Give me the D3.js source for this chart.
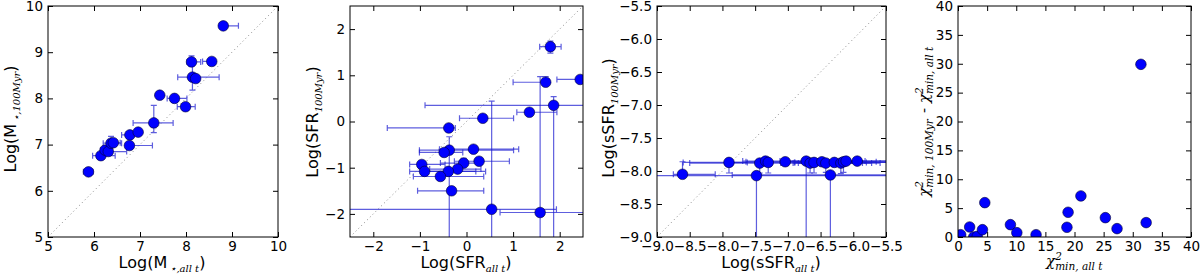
<!DOCTYPE html>
<html>
<head>
<meta charset="utf-8">
<script src="https://cdn.jsdelivr.net/npm/d3@7"></script>
<style>
body { margin: 0; background: #fff; }
svg { display: block; }
</style>
</head>
<body>
<svg id="chart" width="1200" height="276"></svg>
<script>
'use strict';

// Panel 1: Log(M*, all t) vs Log(M*, 100Myr)
var massAll = [5.88, 6.15, 6.24, 6.31, 6.37, 6.42, 6.77, 6.78, 6.96, 7.30, 7.43, 7.75, 7.99, 8.12, 8.14, 8.21, 8.56, 8.81];
var mass100 = [6.41, 6.76, 6.88, 6.85, 7.03, 7.04, 6.98, 7.21, 7.27, 7.47, 8.07, 8.00, 7.82, 8.79, 8.46, 8.43, 8.80, 9.57];
var massXLo = [0.11, 0.18, 0.10, 0.11, 0.17, 0.10, 0.05, 0.18, 0.03, 0.45, 0.02, 0.16, 0.18, 0.10, 0.32, 0.05, 0.20, 0.02];
var massXHi = [0.10, 0.31, 0.10, 0.40, 0.23, 0.15, 0.50, 0.05, 0.03, 0.42, 0.02, 0.27, 0.21, 0.20, 0.58, 0.05, 0.03, 0.33];
var massYLo = [0.02, 0.05, 0.05, 0.05, 0.05, 0.05, 0.03, 0.03, 0.03, 0.21, 0.02, 0.03, 0.03, 0.09, 0.28, 0.05, 0.03, 0.03];
var massYHi = [0.02, 0.05, 0.05, 0.05, 0.15, 0.05, 0.03, 0.03, 0.03, 0.38, 0.02, 0.03, 0.03, 0.13, 0.33, 0.05, 0.03, 0.03];

// Panel 2: Log(SFR)
var sfrAll = [1.80, 1.70, 2.44, 1.87, 1.35, 0.35, -0.38, 0.54, -0.37, -0.48, 0.15, -0.96, -0.90, -0.06, 0.27, -0.19, -0.39, -0.56, -0.32, 1.58];
var sfr100 = [1.62, 0.85, 0.91, 0.35, 0.20, 0.07, -0.14, -1.90, -0.62, -0.67, -0.60, -0.93, -1.08, -0.90, -0.86, -1.03, -1.08, -1.19, -1.50, -1.97];
var sfrXLo = [0.23, 0.70, 0.50, 2.76, 0.27, 0.50, 1.32, 3.50, 0.64, 0.53, 0.73, 0.26, 0.32, 0.50, 0.53, 0.60, 0.50, 0.58, 0.73, 0.86];
var sfrXHi = [0.23, 0.05, 0.60, 1.00, 0.59, 0.66, 0.14, 1.39, 1.38, 0.40, 0.97, 0.50, 1.10, 0.30, 0.65, 0.50, 0.80, 0.93, 0.69, 1.20];
var sfrYLo = [0.14, 0.05, 0.00, 3.00, 0.00, 0.05, 0.05, 1.00, 2.00, 0.00, 0.00, 0.00, 0.00, 0.00, 0.00, 0.00, 0.00, 0.00, 0.00, 1.00];
var sfrYHi = [0.12, 0.12, 0.00, 0.19, 0.00, 0.05, 0.07, 2.34, 0.29, 0.00, 0.00, 0.00, 0.00, 0.10, 0.00, 0.00, 0.00, 0.00, 0.00, 2.94];

// Panel 3: Log(sSFR)
var ssfrAll = [-8.61, -7.48, -6.35, -7.90, -7.43, -7.34, -7.30, -7.04, -6.72, -6.66, -6.60, -6.48, -6.42, -6.29, -6.19, -6.15, -6.11, -5.94];
var ssfr100 = [-8.05, -8.07, -8.06, -7.87, -7.88, -7.85, -7.87, -7.86, -7.85, -7.88, -7.87, -7.86, -7.88, -7.87, -7.88, -7.86, -7.85, -7.85];
var ssfrXLo = [0.14, 2.00, 1.50, 0.70, 1.07, 0.35, 0.62, 0.60, 0.40, 0.45, 0.30, 0.55, 0.50, 0.60, 0.65, 0.50, 0.40, 0.60];
var ssfrXHi = [0.50, 2.50, 1.50, 0.28, 0.34, 0.80, 1.50, 0.98, 0.90, 0.80, 1.20, 0.50, 0.70, 0.80, 0.60, 0.50, 0.70, 1.00];
var ssfrYLo = [0.00, 1.50, 1.50, 0.16, 0.15, 0.03, 0.16, 0.02, 1.50, 0.15, 0.16, 0.03, 0.14, 0.03, 0.16, 0.16, 0.03, 0.03];
var ssfrYHi = [0.19, 0.00, 0.00, 0.02, 0.02, 0.02, 0.02, 0.02, 0.02, 0.02, 0.02, 0.02, 0.02, 0.02, 0.02, 0.02, 0.02, 0.02];

// Panel 4: chi2
var chiAll  = [0.46, 2.0, 2.7, 3.3, 4.2, 4.6, 9.0, 10.1, 13.4, 18.7, 18.9, 21.1, 25.3, 27.3, 31.4, 32.3];
var chiDiff = [0.40, 1.73, 0.0, 0.1, 1.27, 5.95, 2.14, 0.75, 0.40, 1.68, 4.28, 7.11, 3.35, 1.45, 29.9, 2.49];

// Ticks
var massTicks = [5, 6, 7, 8, 9, 10];
var sfrTicks = [-2, -1, 0, 1, 2];
var ssfrTicks = [-9.0, -8.5, -8.0, -7.5, -7.0, -6.5, -6.0, -5.5];
var chiTicks = [0, 5, 10, 15, 20, 25, 30, 35, 40];

var svg = d3.select("#chart");
var TICK_FONT = "DejaVu Sans";
var MATH_FONT = "DejaVu Serif";

function pack(xs, ys, xlo, xhi, ylo, yhi) {
    return xs.map(function (d, i) {
        return {
            x: d, y: ys[i],
            xlo: xlo ? xlo[i] : 0, xhi: xhi ? xhi[i] : 0,
            ylo: ylo ? ylo[i] : 0, yhi: yhi ? yhi[i] : 0
        };
    });
}

var panels = [
    { id: "p1", left: 48, right: 278, domain: [5, 10], ticks: massTicks, fmt: d3.format("d"), diag: true,
      data: pack(massAll, mass100, massXLo, massXHi, massYLo, massYHi) },
    { id: "p2", left: 350, right: 583, domain: [-2.5, 2.5], ticks: sfrTicks, fmt: d3.format("d"), diag: true,
      data: pack(sfrAll, sfr100, sfrXLo, sfrXHi, sfrYLo, sfrYHi) },
    { id: "p3", left: 657, right: 886, domain: [-9, -5.5], ticks: ssfrTicks, fmt: d3.format(".1f"), diag: true,
      data: pack(ssfrAll, ssfr100, ssfrXLo, ssfrXHi, ssfrYLo, ssfrYHi) },
    { id: "p4", left: 958, right: 1191, domain: [0, 40], ticks: chiTicks, fmt: d3.format("d"), diag: false,
      data: pack(chiAll, chiDiff) }
];

var TOP = 6, BOTTOM = 237, CAP = 3;

panels.forEach(function (p) {
    var x = d3.scaleLinear().domain(p.domain).range([p.left, p.right]);
    var y = d3.scaleLinear().domain(p.domain).range([BOTTOM, TOP]);
    var g = svg.append("g");

    // clip for the marks
    svg.append("clipPath").attr("id", "clip-" + p.id)
        .append("rect")
        .attr("x", p.left).attr("y", TOP)
        .attr("width", p.right - p.left).attr("height", BOTTOM - TOP);

    // axes, ticks inside on all four sides
    function styleAxis(sel) {
        sel.select(".domain").remove();
        sel.selectAll("line").attr("stroke", "#000");
        sel.selectAll("text")
            .attr("font-family", TICK_FONT)
            .attr("font-size", 13.5)
            .attr("fill", "#000");
    }
    g.append("g").attr("transform", "translate(0," + BOTTOM + ")")
        .call(d3.axisBottom(x).tickValues(p.ticks).tickFormat(p.fmt).tickSizeInner(-5).tickSizeOuter(0).tickPadding(4))
        .call(styleAxis);
    g.append("g").attr("transform", "translate(0," + TOP + ")")
        .call(d3.axisTop(x).tickValues(p.ticks).tickFormat("").tickSizeInner(-5).tickSizeOuter(0))
        .call(styleAxis);
    g.append("g").attr("transform", "translate(" + p.left + ",0)")
        .call(d3.axisLeft(y).tickValues(p.ticks).tickFormat(p.fmt).tickSizeInner(-5).tickSizeOuter(0).tickPadding(5))
        .call(styleAxis);
    g.append("g").attr("transform", "translate(" + p.right + ",0)")
        .call(d3.axisRight(y).tickValues(p.ticks).tickFormat("").tickSizeInner(-5).tickSizeOuter(0))
        .call(styleAxis);

    var marks = g.append("g").attr("clip-path", "url(#clip-" + p.id + ")");

    // 1:1 line
    if (p.diag) {
        marks.append("line")
            .attr("x1", x(p.domain[0])).attr("y1", y(p.domain[0]))
            .attr("x2", x(p.domain[1])).attr("y2", y(p.domain[1]))
            .attr("stroke", "#888")
            .attr("stroke-width", 1)
            .attr("stroke-dasharray", "1,3");
    }

    // error bars
    var err = marks.append("g")
        .attr("stroke", "#1a1ad0")
        .attr("stroke-opacity", 0.7)
        .attr("stroke-width", 1.2)
        .attr("fill", "none");
    p.data.forEach(function (d) {
        var cx = x(d.x), cy = y(d.y);
        if (d.xlo > 0 || d.xhi > 0) {
            var xa = x(d.x - d.xlo), xb = x(d.x + d.xhi);
            err.append("path").attr("d",
                "M" + xa + "," + cy + "H" + xb +
                "M" + xa + "," + (cy - CAP) + "V" + (cy + CAP) +
                "M" + xb + "," + (cy - CAP) + "V" + (cy + CAP));
        }
        if (d.ylo > 0 || d.yhi > 0) {
            var ya = y(d.y - d.ylo), yb = y(d.y + d.yhi);
            err.append("path").attr("d",
                "M" + cx + "," + ya + "V" + yb +
                "M" + (cx - CAP) + "," + ya + "H" + (cx + CAP) +
                "M" + (cx - CAP) + "," + yb + "H" + (cx + CAP));
        }
    });

    // markers
    marks.append("g").selectAll("circle")
        .data(p.data)
        .enter().append("circle")
        .attr("cx", function (d) { return x(d.x); })
        .attr("cy", function (d) { return y(d.y); })
        .attr("r", 5.3)
        .attr("fill", "#0000ff")
        .attr("stroke", "#000033")
        .attr("stroke-width", 0.6);

    // frame
    g.append("rect")
        .attr("x", p.left).attr("y", TOP)
        .attr("width", p.right - p.left).attr("height", BOTTOM - TOP)
        .attr("fill", "none")
        .attr("stroke", "#000")
        .attr("stroke-width", 1);
});

// ---- axis labels ----
function logLabel(x, y, rotate, main, sub) {
    var t = svg.append("text")
        .attr("font-family", TICK_FONT)
        .attr("font-size", 16)
        .attr("text-anchor", "middle")
        .attr("fill", "#000");
    if (rotate) t.attr("transform", "translate(" + x + "," + y + ") rotate(-90)");
    else t.attr("x", x).attr("y", y);
    t.append("tspan").text("Log(" + main);
    t.append("tspan")
        .attr("dy", 4)
        .attr("font-family", MATH_FONT)
        .attr("font-style", "italic")
        .attr("font-size", 10)
        .text(sub);
    t.append("tspan").attr("dy", -4).text(")");
    return t;
}

logLabel(162, 268, false, "M", " \u22c6,all t");
logLabel(16, 119, true, "M", " \u22c6,100Myr");
logLabel(466, 268, false, "SFR", "all t");
logLabel(318, 122, true, "SFR", "100Myr");
logLabel(771, 268, false, "sSFR", "all t");
logLabel(614, 118, true, "sSFR", "100Myr");

// chi2 labels (mathtext style): chi, superscript 2 stacked over the subscript
function chiTerm(t, sub) {
    t.append("tspan").attr("font-size", 15).text("\u03c7");
    t.append("tspan").attr("font-size", 10.5).attr("dy", -6).text("2");
    t.append("tspan").attr("font-size", 10.5).attr("dx", -6.7).attr("dy", 10).text(sub);
    t.append("tspan").attr("font-size", 15).attr("dy", -4).text("\u200a");
}

var chiX = svg.append("text")
    .attr("x", 1075).attr("y", 266)
    .attr("font-family", MATH_FONT)
    .attr("font-style", "italic")
    .attr("text-anchor", "middle")
    .attr("fill", "#000");
chiTerm(chiX, "min, all t");

var chiY = svg.append("text")
    .attr("transform", "translate(929,121) rotate(-90)")
    .attr("font-family", MATH_FONT)
    .attr("font-style", "italic")
    .attr("text-anchor", "middle")
    .attr("fill", "#000");
chiTerm(chiY, "min, 100Myr");
chiY.append("tspan").attr("font-size", 15).attr("font-style", "normal").text(" - ");
chiTerm(chiY, "min, all t");
</script>
</body>
</html>
